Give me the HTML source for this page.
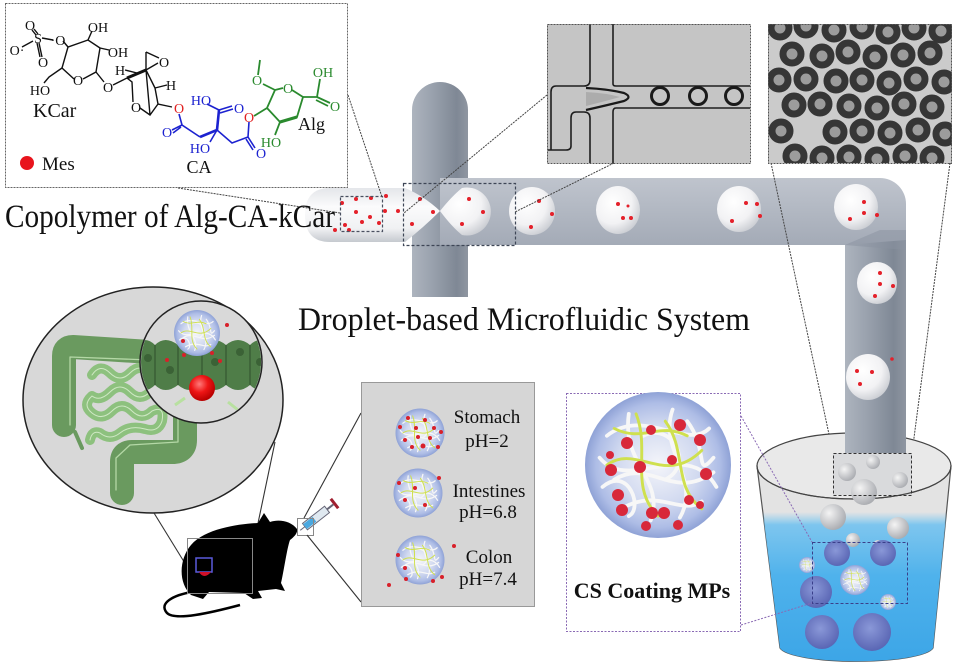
<!DOCTYPE html>
<html><head><meta charset="utf-8">
<style>
html,body{margin:0;padding:0;background:#fff;}
svg{display:block;}
text{font-family:"Liberation Serif","Times New Roman",serif;}
</style></head><body>
<svg width="955" height="672" viewBox="0 0 955 672" xmlns="http://www.w3.org/2000/svg">
<defs>
 <linearGradient id="tubeH" x1="0" y1="0" x2="0" y2="1">
  <stop offset="0" stop-color="#bfc4cd"/>
  <stop offset="0.25" stop-color="#a3aab6"/>
  <stop offset="0.7" stop-color="#8a92a0"/>
  <stop offset="0.92" stop-color="#7b8390"/>
  <stop offset="1" stop-color="#a2a8b2"/>
 </linearGradient>
 <linearGradient id="tubeV" x1="0" y1="0" x2="1" y2="0">
  <stop offset="0" stop-color="#adb4be"/>
  <stop offset="0.35" stop-color="#9aa2ae"/>
  <stop offset="0.8" stop-color="#7f8895"/>
  <stop offset="1" stop-color="#8f96a1"/>
 </linearGradient>
 <linearGradient id="fluid" x1="0" y1="0" x2="0" y2="1">
  <stop offset="0" stop-color="#e4e6ea"/>
  <stop offset="0.35" stop-color="#fbfbfc"/>
  <stop offset="0.75" stop-color="#f0f1f3"/>
  <stop offset="1" stop-color="#c5c9cf"/>
 </linearGradient>
 <radialGradient id="drop" cx="0.38" cy="0.35" r="0.72">
  <stop offset="0" stop-color="#ffffff"/>
  <stop offset="0.6" stop-color="#f2f2f4"/>
  <stop offset="1" stop-color="#c6c9cf"/>
 </radialGradient>
 <radialGradient id="mpg" cx="0.5" cy="0.5" r="0.5">
  <stop offset="0" stop-color="#f4f5fa"/>
  <stop offset="0.55" stop-color="#d2daf0"/>
  <stop offset="0.85" stop-color="#aebde6"/>
  <stop offset="1" stop-color="#8fa2d6"/>
 </radialGradient>
 <radialGradient id="redball" cx="0.4" cy="0.35" r="0.65">
  <stop offset="0" stop-color="#ff7a7a"/>
  <stop offset="0.5" stop-color="#ee1515"/>
  <stop offset="1" stop-color="#b80000"/>
 </radialGradient>
 <radialGradient id="purp" cx="0.45" cy="0.4" r="0.6">
  <stop offset="0" stop-color="#8a98d8"/>
  <stop offset="1" stop-color="#5a66b4"/>
 </radialGradient>
 <radialGradient id="gsph" cx="0.35" cy="0.35" r="0.7">
  <stop offset="0" stop-color="#f4f4f4"/>
  <stop offset="1" stop-color="#a9abb0"/>
 </radialGradient>
 <linearGradient id="water" x1="0" y1="0" x2="0" y2="1">
  <stop offset="0" stop-color="#7fcaf2" stop-opacity="0"/>
  <stop offset="0.08" stop-color="#72c2ef" stop-opacity="0.9"/>
  <stop offset="0.4" stop-color="#4fb2ec"/>
  <stop offset="1" stop-color="#3aa4e6"/>
 </linearGradient>
 <clipPath id="innerClip"><circle cx="201" cy="362" r="60"/></clipPath>
 <clipPath id="mic2"><rect x="768" y="24" width="184" height="139"/></clipPath>
 <clipPath id="beakerClip"><path d="M757,466 L780,648 A77,15 0 0 0 933,648 L951,466 Z"/></clipPath>
 <g id="mp">
  <circle r="50" fill="url(#mpg)"/>
  <g fill="none" stroke="#f7f7f7" stroke-width="2.6" stroke-linecap="round">
   <path d="M-35,-20 C-10,-40 20,-10 35,-25"/>
   <path d="M-30,10 C-5,-5 10,25 38,5"/>
   <path d="M-20,-35 C-25,0 5,10 -5,38"/>
   <path d="M10,-38 C0,-10 30,10 15,36"/>
   <path d="M-40,-5 C-20,20 20,-20 40,15"/>
   <path d="M-25,30 C0,15 15,35 30,25"/>
   <path d="M-10,-20 C10,-30 25,0 5,10"/>
   <path d="M-38,15 C-20,0 -10,30 -20,35"/>
   <path d="M20,-30 C35,-10 25,10 38,-5"/>
  </g>
  <g fill="none" stroke="#cfe04e" stroke-width="2" stroke-linecap="round">
   <path d="M-35,0 C-15,-15 5,15 30,-10"/>
   <path d="M-15,-35 C-5,-10 -20,15 0,35"/>
   <path d="M5,-30 C20,-10 10,15 30,30"/>
   <path d="M-30,-25 C-10,-15 0,-30 20,-20"/>
  </g>
 </g>
</defs>

<!-- ================= TOP-LEFT CHEM BOX ================= -->
<rect x="5.5" y="3.5" width="342" height="184" fill="#fff" stroke="#666" stroke-width="1" stroke-dasharray="2,1"/>
<g stroke="#111" stroke-width="1.4" fill="none">
 <path d="M32,30 L36,35 M34,29 L38,34"/>
 <path d="M33,41 L22,47"/>
 <path d="M37,43 L40,57 M39,43 L42,57"/>
 <path d="M42,38 L53,40"/>
 <path d="M63,41 L68,47 L88,40 L100,48 L96,72 L83,79 M74,79 L62,68 L68,47"/>
 <path d="M88,40 L92,31 M100,48 L109,50 M62,68 L49,77 L44,83 M96,72 L104,82"/>
 <path d="M113,85 L127,78"/>
 <path d="M127,78 L146,70" stroke-width="3"/>
 <path d="M125,70 L137,73 M146,70 L158,63 M146,52 L159,58 M146,52 L146,70 M146,70 L155,88 M155,88 L167,85 M155,88 L158,104 L172,107 M158,104 L150,115 L140,108 M133,102 L132,82 L127,78 M150,115 L146,70"/>
</g>
<g font-size="14" fill="#111" text-anchor="middle">
 <text x="30" y="30">O</text>
 <text x="38" y="43">S</text>
 <text x="17" y="55">O·</text>
 <text x="43" y="67">O</text>
 <text x="58" y="45">·O</text>
 <text x="98" y="32">OH</text>
 <text x="118" y="57">OH</text>
 <text x="78" y="85">O</text>
 <text x="40" y="95">HO</text>
 <text x="108" y="92">O</text>
 <text x="120" y="75">H</text>
 <text x="164" y="67">O</text>
 <text x="171" y="90">H</text>
 <text x="136" y="112">O</text>
</g>
<text x="33" y="117" font-size="20" fill="#111">KCar</text>
<circle cx="27" cy="163" r="7" fill="#e8141c"/>
<text x="42" y="170" font-size="19" fill="#111">Mes</text>
<g font-size="14" fill="#e02020" text-anchor="middle">
 <text x="179" y="113">O</text>
 <text x="249" y="122">O</text>
</g>
<g stroke="#1c22d0" stroke-width="1.6" fill="none">
 <path d="M179,114 L182,125 L200,137 M182,125 L172,130 M181,127 L173,133"/>
 <path d="M200,137 L217,130 L219,110" stroke-width="2.6"/>
 <path d="M219,110 L207,104 M219,110 L232,106 M220,113 L233,109 M217,130 L210,142 M217,130 L232,143 L248,137 M248,137 L255,148 M246,139 L253,150 M248,137 L249,122"/>
</g>
<g font-size="14" fill="#1c22d0" text-anchor="middle">
 <text x="201" y="105">HO</text>
 <text x="239" y="113">O</text>
 <text x="167" y="137">O</text>
 <text x="200" y="153">HO</text>
 <text x="261" y="158">O</text>
</g>
<text x="199" y="173" font-size="18" fill="#111" text-anchor="middle">CA</text>
<g stroke="#2a8a2e" stroke-width="1.8" fill="none">
 <path d="M254,116 L267,108 L275,90 L283,88 M292,90 L303,97 L297,117 L280,122 L267,108"/>
 <path d="M280,122 L297,117" stroke-width="3"/>
 <path d="M275,90 L263,84 M258,75 L260,60 M303,97 L317,97 L320,79 M317,97 L330,103 M316,100 L328,106 M280,122 L275,135"/>
</g>
<g font-size="14" fill="#2a8a2e" text-anchor="middle">
 <text x="257" y="85">O</text>
 <text x="288" y="93">O</text>
 <text x="323" y="77">OH</text>
 <text x="335" y="111">O</text>
 <text x="271" y="147">HO</text>
</g>
<text x="298" y="130" font-size="18" fill="#111">Alg</text>

<!-- ================= TUBES ================= -->
<path d="M412,297 V110 A28,28 0 0 1 468,110 V297 Z" fill="url(#tubeV)"/>
<path d="M440,178 H880 A26,26 0 0 1 906,204 V453 H845 V245 H440 Z" fill="url(#tubeH)"/>
<path d="M845,245 V453 H906 V240 Z" fill="url(#tubeV)"/>
<path d="M845,245 L880,230 L906,230 V250 Z" fill="#8a92a0" opacity="0.5"/>
<path d="M330,188 H405 Q424,196 440,211 Q424,227 405,242 H330 Q305,242 305,215 Q305,188 330,188 Z" fill="url(#fluid)"/>
<path d="M440,211 Q452,196 462,188 A24,24 0 1 1 462,235 Q452,227 440,211 Z" fill="url(#drop)"/>
<ellipse cx="532" cy="211" rx="23" ry="24" fill="url(#drop)"/>
<ellipse cx="618" cy="210" rx="22" ry="24" fill="url(#drop)"/>
<ellipse cx="739" cy="209" rx="22" ry="23" fill="url(#drop)"/>
<ellipse cx="856" cy="207" rx="22" ry="23" fill="url(#drop)"/>
<ellipse cx="877" cy="283" rx="20" ry="21" fill="url(#drop)"/>
<ellipse cx="868" cy="377" rx="22" ry="23" fill="url(#drop)"/>
<g fill="#e4202a">
 <circle cx="345" cy="225" r="2"/><circle cx="342" cy="203" r="2"/><circle cx="356" cy="212" r="2"/><circle cx="356" cy="199" r="2"/>
 <circle cx="362" cy="222" r="2"/><circle cx="370" cy="217" r="2"/><circle cx="371" cy="198" r="2"/><circle cx="379" cy="223" r="2"/>
 <circle cx="386" cy="196" r="2"/><circle cx="385" cy="211" r="2"/><circle cx="398" cy="211" r="2"/><circle cx="349" cy="230" r="2"/><circle cx="335" cy="230" r="2"/>
 <circle cx="420" cy="199" r="2"/><circle cx="412" cy="224" r="2"/><circle cx="433" cy="212" r="2"/><circle cx="469" cy="199" r="2"/><circle cx="483" cy="212" r="2"/><circle cx="462" cy="224" r="2"/>
 <circle cx="539" cy="201" r="2"/><circle cx="552" cy="214" r="2"/><circle cx="531" cy="227" r="2"/>
 <circle cx="618" cy="204" r="2"/><circle cx="628" cy="206" r="1.5"/><circle cx="623" cy="218" r="2"/><circle cx="631" cy="218" r="2"/>
 <circle cx="746" cy="203" r="2"/><circle cx="757" cy="204" r="2"/><circle cx="732" cy="221" r="2"/><circle cx="760" cy="216" r="2"/>
 <circle cx="864" cy="202" r="2"/><circle cx="864" cy="213" r="2"/><circle cx="850" cy="219" r="2"/><circle cx="877" cy="215" r="2"/>
 <circle cx="880" cy="273" r="2"/><circle cx="880" cy="284" r="2"/><circle cx="893" cy="286" r="2"/><circle cx="875" cy="296" r="2"/>
 <circle cx="857" cy="371" r="2"/><circle cx="872" cy="372" r="2"/><circle cx="860" cy="384" r="2"/><circle cx="892" cy="359" r="1.8"/>
</g>
<rect x="340.5" y="196.5" width="42" height="35" fill="none" stroke="#4a5060" stroke-width="1.2" stroke-dasharray="3,2"/>
<rect x="403.5" y="183.5" width="112" height="62" fill="none" stroke="#3e4656" stroke-width="1.2" stroke-dasharray="3,2"/>
<g stroke="#444" stroke-width="1" stroke-dasharray="2,1" fill="none">
 <line x1="178" y1="188" x2="340" y2="213"/>
 <line x1="348" y1="95" x2="382" y2="197"/>
 <line x1="547" y1="95" x2="404" y2="213"/>
 <line x1="614" y1="163" x2="515" y2="212"/>
 <line x1="771" y1="163" x2="833" y2="453"/>
 <line x1="950" y1="163" x2="912" y2="453"/>
</g>

<text x="5" y="227" font-size="33" fill="#111" textLength="330" lengthAdjust="spacingAndGlyphs">Copolymer of Alg-CA-kCar</text>
<text x="298" y="330" font-size="33" fill="#111" textLength="452" lengthAdjust="spacingAndGlyphs">Droplet-based Microfluidic System</text>

<!-- ================= MICROGRAPH 1 ================= -->
<rect x="547" y="24" width="203" height="139" fill="#c5c5c5"/>
<g fill="none" stroke="#1e1e1e" stroke-width="1.6">
 <path d="M590,24 V80 Q590,86 584,86 H556 Q551,86 551,92 V150"/>
 <path d="M613,24 V84 Q613,86 616,86 H750"/>
 <path d="M750,108 H616 Q613,108 613,112 V163"/>
 <path d="M590,163 V118 Q590,112 584,112 H576 Q571,112 571,118 V146 Q571,150 566,150 H548"/>
</g>
<path d="M586,92 Q606,93 620,97 Q606,101 586,106 Z" fill="#acacac"/>
<path d="M586,88 Q608,89 624,93 Q633,97 624,101 Q608,105 586,110" fill="none" stroke="#1a1a1a" stroke-width="2.2"/>
<g fill="none" stroke="#1a1a1a" stroke-width="3">
 <circle cx="660" cy="96" r="8.5"/><circle cx="698" cy="96" r="8.5"/><circle cx="734" cy="96" r="8.5"/>
</g>
<rect x="547.5" y="24.5" width="203" height="139" fill="none" stroke="#555" stroke-width="1" stroke-dasharray="2,1"/>

<!-- ================= MICROGRAPH 2 ================= -->
<rect x="768" y="24" width="184" height="139" fill="#cbcbcb"/>
<g clip-path="url(#mic2)">
 <g fill="#9c9c9c" stroke="#363636" stroke-width="7">
  <circle cx="780" cy="28" r="9"/><circle cx="806" cy="26" r="9"/><circle cx="834" cy="30" r="9"/><circle cx="862" cy="27" r="9"/><circle cx="888" cy="32" r="9"/><circle cx="914" cy="28" r="9"/><circle cx="941" cy="31" r="9"/>
  <circle cx="792" cy="54" r="9"/><circle cx="822" cy="56" r="9"/><circle cx="848" cy="52" r="9"/><circle cx="875" cy="57" r="9"/><circle cx="903" cy="55" r="9"/><circle cx="930" cy="53" r="9"/>
  <circle cx="779" cy="80" r="9"/><circle cx="806" cy="79" r="9"/><circle cx="836" cy="81" r="9"/><circle cx="862" cy="80" r="9"/><circle cx="889" cy="83" r="9"/><circle cx="916" cy="79" r="9"/><circle cx="944" cy="82" r="9"/>
  <circle cx="794" cy="105" r="9"/><circle cx="820" cy="104" r="9"/><circle cx="849" cy="106" r="9"/><circle cx="877" cy="108" r="9"/><circle cx="904" cy="104" r="9"/><circle cx="932" cy="107" r="9"/>
  <circle cx="781" cy="131" r="9"/><circle cx="835" cy="132" r="9"/><circle cx="862" cy="131" r="9"/><circle cx="890" cy="133" r="9"/><circle cx="918" cy="130" r="9"/><circle cx="945" cy="134" r="9"/>
  <circle cx="795" cy="156" r="9"/><circle cx="822" cy="158" r="9"/><circle cx="849" cy="157" r="9"/><circle cx="877" cy="159" r="9"/><circle cx="905" cy="156" r="9"/><circle cx="932" cy="158" r="9"/>
 </g>
</g>
<rect x="768.5" y="24.5" width="183" height="139" fill="none" stroke="#555" stroke-width="1" stroke-dasharray="2,1"/>

<!-- ================= BEAKER ================= -->
<path d="M757,466 L780,648 A77,15 0 0 0 933,648 L951,466 Z" fill="#e3e3e3" stroke="#555" stroke-width="1.2"/>
<ellipse cx="854" cy="466" rx="97" ry="33" fill="#e9e9e9" stroke="#444" stroke-width="1.2"/>
<g clip-path="url(#beakerClip)">
 <rect x="750" y="512" width="210" height="160" fill="url(#water)"/>
</g>
<rect x="845" y="400" width="61" height="53" fill="url(#tubeV)"/>
<rect x="833" y="453" width="79" height="42" fill="#d9dadc"/>
<path d="M757,466 A97,33 0 0 0 951,466" fill="none" stroke="#444" stroke-width="1.2"/>
<g>
 <circle cx="847" cy="472" r="9" fill="url(#gsph)"/>
 <circle cx="873" cy="462" r="7" fill="url(#gsph)"/>
 <circle cx="864" cy="492" r="13" fill="url(#gsph)"/>
 <circle cx="900" cy="480" r="8" fill="url(#gsph)"/>
 <circle cx="833" cy="517" r="13" fill="url(#gsph)"/>
 <circle cx="898" cy="528" r="11" fill="url(#gsph)"/>
 <circle cx="853" cy="540" r="7" fill="url(#gsph)"/>
 <circle cx="878" cy="545" r="5" fill="url(#gsph)"/>
</g>
<g fill="url(#purp)">
 <circle cx="837" cy="553" r="13"/><circle cx="883" cy="553" r="13"/>
 <circle cx="816" cy="592" r="16"/><circle cx="822" cy="632" r="17"/><circle cx="872" cy="632" r="19"/>
</g>
<use href="#mp" transform="translate(855,580) scale(0.3)"/>
<use href="#mp" transform="translate(807,565) scale(0.16)"/>
<use href="#mp" transform="translate(888,602) scale(0.16)"/>
<rect x="833.5" y="453.5" width="78" height="42" fill="none" stroke="#333" stroke-width="1" stroke-dasharray="3,2"/>
<rect x="812.5" y="542.5" width="95" height="61" fill="none" stroke="#3a3f8a" stroke-width="1" stroke-dasharray="3,2"/>

<!-- ================= CS COATING BOX ================= -->
<rect x="566.5" y="393.5" width="174" height="238" fill="#fff" stroke="#8a6ab4" stroke-width="1" stroke-dasharray="2,1.5"/>
<g stroke="#8a6ab4" stroke-width="1" stroke-dasharray="2,1.5">
 <line x1="741" y1="416" x2="812" y2="542"/>
 <line x1="741" y1="625" x2="812" y2="603"/>
</g>
<use href="#mp" transform="translate(658,465) scale(1.46)"/>
<g fill="#d8283a">
 <circle cx="627" cy="443" r="6"/><circle cx="651" cy="430" r="5"/><circle cx="680" cy="425" r="6"/><circle cx="700" cy="440" r="6"/>
 <circle cx="611" cy="470" r="6"/><circle cx="640" cy="467" r="6"/><circle cx="672" cy="460" r="5"/><circle cx="706" cy="474" r="6"/>
 <circle cx="618" cy="495" r="6"/><circle cx="622" cy="510" r="6"/><circle cx="652" cy="513" r="6"/><circle cx="664" cy="513" r="6"/>
 <circle cx="689" cy="500" r="5"/><circle cx="646" cy="526" r="5"/><circle cx="678" cy="525" r="5"/><circle cx="610" cy="455" r="4"/><circle cx="700" cy="505" r="4"/>
</g>
<text x="652" y="598" font-size="22" font-weight="bold" fill="#111" text-anchor="middle">CS Coating MPs</text>

<!-- ================= COLON CIRCLE ================= -->
<ellipse cx="153" cy="400" rx="130" ry="113" fill="#d8d8d8" stroke="#222" stroke-width="1.5"/>
<g fill="none" stroke-linecap="round" stroke-linejoin="round">
 <path d="M64,425 L64,356 Q64,347 73,347 L150,352 L185,362 L185,440 Q185,452 172,452 L132,452 Q122,452 122,462 L122,493" stroke="#6a9a5f" stroke-width="24"/>
 <path d="M70,425 L70,357 L150,360 M178,400 L178,442 L130,445 L116,458 L116,490" stroke="#b4d8a6" stroke-width="1.3"/>
 <path d="M75,432 L82,448" stroke="#6a9a5f" stroke-width="4"/>
 <path d="M92,375 Q100,363 110,373 Q120,383 130,373 Q140,363 150,373 Q160,383 150,392 Q140,402 130,392 Q120,382 110,392 Q100,402 92,396 Q82,405 92,413 Q102,421 112,411 Q122,401 132,411 Q142,421 152,411 Q165,405 162,421 Q158,433 145,429 Q130,425 120,433 Q110,441 100,433 Q92,430 90,440" stroke="#8dc17e" stroke-width="10"/>
 <path d="M92,375 Q100,363 110,373 Q120,383 130,373 Q140,363 150,373 Q160,383 150,392 Q140,402 130,392 Q120,382 110,392 Q100,402 92,396 Q82,405 92,413 Q102,421 112,411 Q122,401 132,411 Q142,421 152,411 Q165,405 162,421 Q158,433 145,429 Q130,425 120,433 Q110,441 100,433 Q92,430 90,440" stroke="#cfe8c4" stroke-width="1"/>
</g>
<circle cx="201" cy="362" r="61" fill="#d9d9d9"/>
<g clip-path="url(#innerClip)">
 <path d="M135,345 Q145,335 155,345 Q165,335 178,345 Q190,335 202,345 Q214,335 226,345 Q238,335 250,345 Q260,335 270,345 V385 Q260,395 250,385 Q238,395 226,385 Q214,395 202,385 Q190,395 178,385 Q165,395 155,385 Q145,395 135,385 Z" fill="#4f7d48"/>
 <g stroke="#3a5e35" stroke-width="1.5">
  <line x1="155" y1="345" x2="155" y2="385"/><line x1="178" y1="345" x2="178" y2="385"/><line x1="202" y1="345" x2="202" y2="385"/><line x1="226" y1="345" x2="226" y2="385"/><line x1="250" y1="345" x2="250" y2="385"/>
 </g>
 <g fill="#3b6236">
  <circle cx="148" cy="358" r="4"/><circle cx="170" cy="370" r="4"/><circle cx="215" cy="362" r="4"/><circle cx="240" cy="352" r="4"/><circle cx="260" cy="362" r="4"/>
 </g>
 <path d="M175,405 L185,398 M228,402 L238,410" stroke="#b8e0a0" stroke-width="3"/>
</g>
<use href="#mp" transform="translate(197,333) scale(0.46)"/>
<circle cx="202" cy="388" r="13" fill="url(#redball)"/>
<g fill="#d8202a">
 <circle cx="183" cy="341" r="2"/><circle cx="184" cy="355" r="2"/><circle cx="167" cy="360" r="2"/><circle cx="212" cy="353" r="2"/><circle cx="220" cy="361" r="2"/><circle cx="227" cy="325" r="2"/>
</g>
<circle cx="201" cy="362" r="61" fill="none" stroke="#222" stroke-width="1.5"/>

<g stroke="#333" stroke-width="1.1">
 <line x1="154" y1="513" x2="186" y2="565"/>
 <line x1="275" y1="442" x2="257" y2="528"/>
</g>

<!-- ================= MOUSE ================= -->
<path d="M297,529 C291,521 279,519 270,522 L264,513 L258,523 C240,524 206,528 191,545 C179,559 178,583 191,595 L203,599 L209,592 L244,593 L253,599 L262,598 L258,591 L276,589 L285,591 L281,583 C284,570 287,548 290,540 C294,537 298,533 297,529 Z" fill="#000"/>
<path d="M192,592 C174,595 158,603 167,613 C175,621 210,613 240,605" fill="none" stroke="#000" stroke-width="2.5"/>
<path d="M196,558 h16 v14 h-16 z" fill="none" stroke="#5a5adc" stroke-width="1.5"/>
<path d="M199,572 q5,8 12,0" fill="#d0102a"/>
<rect x="187.5" y="538.5" width="65" height="55" fill="none" stroke="#888" stroke-width="1"/>
<g transform="translate(316,518) rotate(-38)">
 <rect x="-14" y="-4" width="28" height="8" fill="#dfe8f0" stroke="#667" stroke-width="1"/>
 <rect x="-14" y="-3" width="12" height="6" fill="#4aa8e0"/>
 <line x1="14" y1="0" x2="22" y2="0" stroke="#667" stroke-width="2"/>
 <rect x="22" y="-6" width="3" height="12" fill="#a02030"/>
 <line x1="-14" y1="0" x2="-20" y2="0" stroke="#667" stroke-width="1"/>
</g>
<rect x="297.5" y="518.5" width="16" height="17" fill="none" stroke="#888" stroke-width="1"/>
<g stroke="#333" stroke-width="1.1">
 <line x1="304" y1="518" x2="361" y2="413"/>
 <line x1="307" y1="535" x2="361" y2="602"/>
</g>

<!-- ================= pH BOX ================= -->
<rect x="361.5" y="382.5" width="173" height="224" fill="#d6d6d6" stroke="#999" stroke-width="1"/>
<use href="#mp" transform="translate(420,433) scale(0.49)"/>
<use href="#mp" transform="translate(418,493) scale(0.49)"/>
<use href="#mp" transform="translate(420,560) scale(0.49)"/>
<g fill="#d8202a">
 <circle cx="400" cy="427" r="2"/><circle cx="408" cy="418" r="2"/><circle cx="416" cy="428" r="2"/><circle cx="425" cy="420" r="2"/><circle cx="434" cy="428" r="2"/><circle cx="441" cy="432" r="2"/>
 <circle cx="405" cy="440" r="2"/><circle cx="412" cy="447" r="2"/><circle cx="423" cy="446" r="2.5"/><circle cx="430" cy="438" r="2"/><circle cx="418" cy="437" r="2"/><circle cx="438" cy="447" r="2"/>
 <circle cx="399" cy="483" r="2"/><circle cx="415" cy="488" r="2"/><circle cx="439" cy="478" r="2"/><circle cx="425" cy="505" r="2"/><circle cx="405" cy="500" r="2"/>
 <circle cx="398" cy="555" r="2"/><circle cx="405" cy="568" r="2"/><circle cx="406" cy="579" r="2"/><circle cx="433" cy="581" r="2"/><circle cx="442" cy="577" r="2"/><circle cx="389" cy="585" r="2"/><circle cx="454" cy="546" r="2"/>
</g>
<g font-size="19" fill="#111" text-anchor="middle">
 <text x="487" y="423">Stomach</text>
 <text x="487" y="447">pH=2</text>
 <text x="489" y="497">Intestines</text>
 <text x="488" y="518">pH=6.8</text>
 <text x="489" y="563">Colon</text>
 <text x="488" y="585">pH=7.4</text>
</g>
</svg>
</body></html>
